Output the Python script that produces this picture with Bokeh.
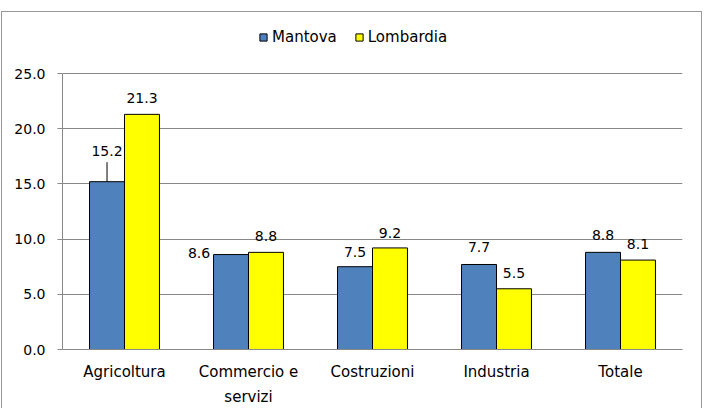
from bokeh.plotting import figure
from bokeh.models import (ColumnDataSource, FactorRange, LabelSet, Legend, LegendItem,
                          FixedTicker, NumeralTickFormatter)
from bokeh.transform import dodge
from bokeh.core.properties import value
from bokeh.embed import file_html
from bokeh.resources import INLINE

# ---- data ----
categories = ["Agricoltura", "Commercio e\nservizi", "Costruzioni", "Industria", "Totale"]
mantova = [15.2, 8.6, 7.5, 7.7, 8.8]
lombardia = [21.3, 8.8, 9.2, 5.5, 8.1]
y_ticks = [0, 5, 10, 15, 20, 25]

# ---- layout / style ----
FONT = "DejaVu Sans"
FS_NUM = "14px"
FS_TXT = "15px"
BLUE = "#4F81BD"
YELLOW = "#FFFF00"
GRID = "#888888"
EDGE = "#999999"
W, H = 701, 397
ML, MR, MT, MB = 61, 20, 10, 59
BAR_W = 0.282
AXIS_MAX = 25
AXIS_PX = 276                       # pixel height of the 0..25 span
FRAME_H = H - MT - MB
Y_TOP = AXIS_MAX * FRAME_H / AXIS_PX  # frame extends above 25 to hold the legend

# per-label pixel offsets (label placement, not data)
m_xoff = [0, -32, 0, 0, 0]
m_yoff = [31, 2, 15, 17, 17]
l_xoff = [0, 0, 0, 0, 0]
l_yoff = [16, 16, 15, 16, 16]

p = figure(x_range=FactorRange(*categories), y_range=(0, Y_TOP),
           width=W, height=H, output_backend="svg", toolbar_location=None,
           min_border_left=ML, min_border_right=MR, min_border_top=MT, min_border_bottom=MB)
p.styles = {"margin-left": "1px", "margin-top": "11px",
            "box-shadow": f"inset 1px 1px 0 {EDGE}, inset -1px 0 0 {EDGE}"}
p.outline_line_color = None
p.background_fill_color = None
p.border_fill_color = None

src_m = ColumnDataSource(dict(cat=categories, val=mantova,
                              txt=[f"{v:.1f}" for v in mantova], xo=m_xoff, yo=m_yoff))
src_l = ColumnDataSource(dict(cat=categories, val=lombardia,
                              txt=[f"{v:.1f}" for v in lombardia], xo=l_xoff, yo=l_yoff))

x_m = dodge("cat", -BAR_W / 2, range=p.x_range)
x_l = dodge("cat", BAR_W / 2, range=p.x_range)

p.vbar(x=x_m, top="val", width=BAR_W, source=src_m,
       fill_color=BLUE, line_color="black", line_width=1)
p.vbar(x=x_l, top="val", width=BAR_W, source=src_l,
       fill_color=YELLOW, line_color="black", line_width=1)

# zero-size square markers: used only to draw square legend keys
k_m = p.scatter(x=x_m, y="val", source=src_m, marker="square", size=0,
                fill_color=BLUE, line_color="black", line_width=1)
k_l = p.scatter(x=x_l, y="val", source=src_l, marker="square", size=0,
                fill_color=YELLOW, line_color="black", line_width=1)

# leader line for the displaced first Mantova label
lead_units = 19.5 * AXIS_MAX / AXIS_PX
src_lead = ColumnDataSource(dict(cat=[categories[0]], y0=[mantova[0]], y1=[mantova[0] + lead_units]))
p.segment(x0=x_m, y0="y0", x1=x_m, y1="y1",
          source=src_lead, line_color="black", line_width=1)

for src, xs in ((src_m, x_m), (src_l, x_l)):
    p.add_layout(LabelSet(x=xs, y="val", text="txt",
                          x_offset="xo", y_offset="yo", source=src,
                          text_align="center", text_baseline="middle",
                          text_font=value(FONT), text_font_size=FS_NUM, text_color="black"))

# axes
p.yaxis.ticker = FixedTicker(ticks=y_ticks)
p.yaxis.bounds = (0, AXIS_MAX)
p.yaxis.formatter = NumeralTickFormatter(format="0.0")
p.yaxis.minor_tick_line_color = None
p.yaxis.major_tick_out = 5
p.yaxis.major_tick_in = 0
p.yaxis.major_tick_line_color = GRID
p.yaxis.axis_line_color = GRID
p.yaxis.major_label_standoff = 12
p.yaxis.major_label_text_font_size = FS_NUM
p.xaxis.major_tick_line_color = None
p.xaxis.major_tick_out = 0
p.xaxis.major_tick_in = 0
p.xaxis.axis_line_color = GRID
p.xaxis.major_label_standoff = 13
p.xaxis.major_label_text_line_height = 1.4
p.xaxis.major_label_text_font_size = FS_TXT
for ax in (p.xaxis, p.yaxis):
    ax.major_label_text_font = FONT
    ax.major_label_text_color = "black"

p.xgrid.grid_line_color = None
p.ygrid.grid_line_color = GRID
p.ygrid.ticker = FixedTicker(ticks=y_ticks)

legend = Legend(items=[LegendItem(label="Mantova", renderers=[k_m]),
                       LegendItem(label="Lombardia", renderers=[k_l])],
                orientation="horizontal", location=(192, 303),
                padding=0, margin=0, spacing=13, label_standoff=-3,
                glyph_width=18, glyph_height=18, label_height=18, label_width=0,
                border_line_color=None, background_fill_alpha=0,
                label_text_font=FONT, label_text_font_size=FS_TXT, label_text_color="black")
p.add_layout(legend, "center")

open("out.html", "w").write(file_html(p, INLINE))
